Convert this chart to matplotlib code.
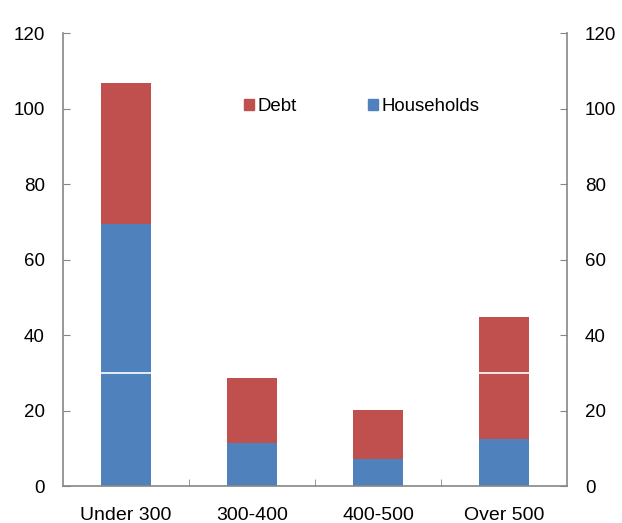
import matplotlib
matplotlib.use("Agg")
import matplotlib.pyplot as plt
from matplotlib.patches import Patch
import numpy as np

categories = ["Under 300", "300-400", "400-500", "Over 500"]
households = [69.5, 11.4, 7.2, 12.4]
debt = [37.3, 17.2, 12.9, 32.4]
threshold = 30

plt.rcParams['font.family'] = ['Liberation Sans', 'DejaVu Sans']
red = "#C0504D"
blue = "#4F81BD"
gray = "#868686"
bw = 0.4

fig = plt.figure(figsize=(6.22, 5.23), dpi=100)
ax = fig.add_axes([0.1013, 0.0707, 0.9116 - 0.1013, 0.9369 - 0.0707])
x = np.arange(len(categories))
ax.bar(x, households, width=bw, color=blue, zorder=2)
ax.bar(x, debt, bottom=households, width=bw, color=red, zorder=2)
ax.hlines([threshold] * len(x), x - bw / 2, x + bw / 2, color="white", lw=1.2, zorder=3)

ax.set_xlim(-0.5, len(categories) - 0.5)
ax.set_ylim(0, 120)
ax.set_yticks(range(0, 121, 20))
ax.set_xticks(x)
ax.set_xticklabels(categories, fontsize=14)
ax.tick_params(axis='x', length=0, pad=15)
ax.set_xticks(np.arange(0.5, len(categories) - 0.5, 1), minor=True)
ax.tick_params(axis='x', which='minor', direction='in', length=5, color=gray, top=False)
ax.tick_params(axis='y', direction='in', length=5, color=gray, labelsize=13.5, pad=13,
               left=True, right=True, labelleft=True, labelright=True)
for s in ax.spines.values():
    s.set_color(gray)
    s.set_linewidth(1.2)
ax.spines['top'].set_visible(False)

handles = [Patch(color=red, label="Debt"), Patch(color=blue, label="Households")]
ax.legend(handles=handles, ncol=2, frameon=False, loc='center', bbox_to_anchor=(0.593, 0.837),
          fontsize=13.4, handlelength=0.55, handleheight=0.55, handletextpad=0.2,
          columnspacing=3.8, borderpad=0, borderaxespad=0)

fig.savefig("out.png", dpi=100)
